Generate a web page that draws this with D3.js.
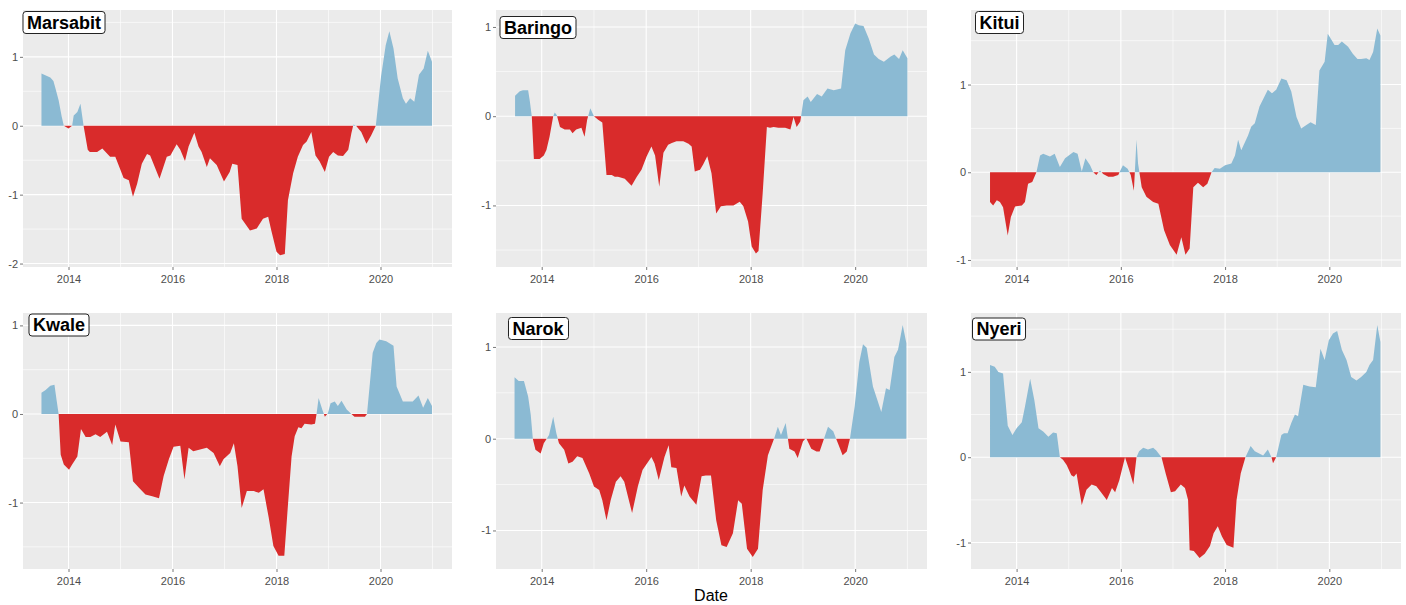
<!DOCTYPE html>
<html>
<head>
<meta charset="utf-8">
<script src="https://cdn.jsdelivr.net/npm/d3@7"></script>
<style>
  body { margin: 0; background: #ffffff; }
  svg { display: block; font-family: "Liberation Sans", Arial, sans-serif; }
</style>
</head>
<body>
<script>
// county names, one per facet
const counties = ["Marsabit", "Baringo", "Kitui", "Kwale", "Narok", "Nyeri"];

// [decimal year, index value]
const marsabit = [[2013.48,0.76],[2013.65,0.70],[2013.71,0.65],[2013.75,0.54],[2013.81,0.37],[2013.87,0.13],[2013.91,0],[2014.0,-0.04],[2014.07,0],[2014.1,0.15],[2014.17,0.2],[2014.23,0.32],[2014.29,0],[2014.37,-0.35],[2014.41,-0.38],[2014.55,-0.38],[2014.65,-0.33],[2014.8,-0.45],[2014.9,-0.45],[2015.06,-0.76],[2015.16,-0.79],[2015.24,-1.03],[2015.32,-0.84],[2015.41,-0.55],[2015.51,-0.41],[2015.57,-0.43],[2015.75,-0.77],[2015.89,-0.45],[2015.96,-0.43],[2016.08,-0.27],[2016.15,-0.35],[2016.24,-0.51],[2016.31,-0.30],[2016.42,-0.10],[2016.5,-0.30],[2016.56,-0.38],[2016.66,-0.60],[2016.72,-0.47],[2016.85,-0.57],[2016.99,-0.81],[2017.1,-0.67],[2017.15,-0.55],[2017.25,-0.57],[2017.33,-1.35],[2017.49,-1.52],[2017.62,-1.49],[2017.74,-1.35],[2017.84,-1.32],[2017.9,-1.52],[2018.0,-1.83],[2018.07,-1.88],[2018.16,-1.86],[2018.22,-1.08],[2018.32,-0.69],[2018.41,-0.45],[2018.51,-0.28],[2018.58,-0.23],[2018.67,-0.09],[2018.75,-0.43],[2018.83,-0.52],[2018.93,-0.67],[2019.01,-0.45],[2019.09,-0.38],[2019.18,-0.43],[2019.28,-0.44],[2019.38,-0.35],[2019.44,-0.11],[2019.48,0.02],[2019.53,0],[2019.63,-0.09],[2019.73,-0.26],[2019.82,-0.14],[2019.91,0],[2020.01,0.71],[2020.1,1.17],[2020.17,1.37],[2020.25,1.12],[2020.33,0.69],[2020.43,0.40],[2020.49,0.32],[2020.57,0.40],[2020.65,0.35],[2020.74,0.74],[2020.83,0.83],[2020.91,1.09],[2020.99,0.93]];

const baringo = [[2013.49,0.23],[2013.58,0.28],[2013.64,0.29],[2013.74,0.29],[2013.77,0.18],[2013.81,0],[2013.85,-0.48],[2013.96,-0.48],[2014.04,-0.44],[2014.09,-0.38],[2014.15,-0.23],[2014.22,0],[2014.25,0.04],[2014.29,0.01],[2014.35,-0.12],[2014.44,-0.15],[2014.54,-0.15],[2014.59,-0.19],[2014.66,-0.15],[2014.76,-0.13],[2014.82,-0.23],[2014.87,-0.04],[2014.93,0.09],[2015.0,0],[2015.08,-0.04],[2015.16,-0.07],[2015.24,-0.66],[2015.34,-0.66],[2015.4,-0.68],[2015.46,-0.68],[2015.59,-0.70],[2015.72,-0.78],[2015.82,-0.68],[2015.91,-0.60],[2016.01,-0.45],[2016.1,-0.34],[2016.17,-0.44],[2016.25,-0.79],[2016.33,-0.41],[2016.42,-0.32],[2016.49,-0.30],[2016.58,-0.28],[2016.71,-0.28],[2016.81,-0.31],[2016.87,-0.34],[2016.93,-0.62],[2017.03,-0.60],[2017.09,-0.54],[2017.17,-0.45],[2017.25,-0.64],[2017.34,-1.09],[2017.43,-1.01],[2017.54,-1.00],[2017.67,-1.00],[2017.79,-0.96],[2017.86,-1.01],[2017.95,-1.18],[2018.02,-1.46],[2018.1,-1.54],[2018.15,-1.51],[2018.23,-0.86],[2018.31,-0.12],[2018.37,-0.13],[2018.44,-0.12],[2018.53,-0.13],[2018.66,-0.13],[2018.76,-0.15],[2018.82,-0.01],[2018.88,-0.12],[2018.95,-0.06],[2019.01,0.18],[2019.09,0.22],[2019.15,0.16],[2019.27,0.25],[2019.36,0.22],[2019.47,0.31],[2019.59,0.29],[2019.73,0.31],[2019.81,0.74],[2019.91,0.93],[2020.0,1.04],[2020.07,1.02],[2020.16,1.01],[2020.26,0.87],[2020.36,0.69],[2020.45,0.64],[2020.55,0.61],[2020.68,0.67],[2020.75,0.69],[2020.84,0.64],[2020.91,0.74],[2021.0,0.65]];

const kitui = [[2013.49,-0.34],[2013.55,-0.38],[2013.62,-0.32],[2013.68,-0.34],[2013.74,-0.40],[2013.83,-0.72],[2013.89,-0.51],[2013.97,-0.39],[2014.1,-0.38],[2014.16,-0.34],[2014.22,-0.13],[2014.3,-0.11],[2014.38,0],[2014.45,0.19],[2014.51,0.21],[2014.64,0.18],[2014.73,0.21],[2014.83,0.06],[2014.93,0.16],[2015.09,0.23],[2015.17,0.21],[2015.25,0.01],[2015.32,0.16],[2015.41,0.08],[2015.47,0],[2015.53,-0.03],[2015.6,0.02],[2015.66,-0.02],[2015.76,-0.05],[2015.85,-0.05],[2015.95,-0.03],[2016.04,0.08],[2016.13,0.04],[2016.19,-0.03],[2016.25,-0.21],[2016.3,0.37],[2016.33,0.10],[2016.4,-0.17],[2016.49,-0.28],[2016.62,-0.34],[2016.72,-0.36],[2016.83,-0.66],[2016.94,-0.83],[2017.07,-0.94],[2017.16,-0.74],[2017.24,-0.94],[2017.32,-0.87],[2017.39,-0.17],[2017.48,-0.12],[2017.58,-0.17],[2017.66,-0.13],[2017.74,0],[2017.8,0.05],[2017.9,0.04],[2018.0,0.08],[2018.12,0.10],[2018.19,0.19],[2018.25,0.37],[2018.31,0.25],[2018.44,0.42],[2018.5,0.52],[2018.57,0.56],[2018.66,0.75],[2018.82,0.94],[2018.9,0.90],[2018.98,0.94],[2019.08,1.07],[2019.18,1.05],[2019.27,0.92],[2019.37,0.63],[2019.46,0.50],[2019.56,0.54],[2019.64,0.57],[2019.74,0.54],[2019.81,1.16],[2019.91,1.26],[2019.97,1.58],[2020.04,1.51],[2020.1,1.45],[2020.17,1.45],[2020.24,1.49],[2020.36,1.43],[2020.45,1.35],[2020.54,1.29],[2020.61,1.29],[2020.71,1.30],[2020.77,1.28],[2020.84,1.37],[2020.92,1.64],[2020.98,1.56]];

const kwale = [[2013.48,0.24],[2013.56,0.27],[2013.65,0.32],[2013.73,0.33],[2013.77,0.16],[2013.81,0],[2013.85,-0.46],[2013.91,-0.57],[2014.01,-0.63],[2014.07,-0.57],[2014.17,-0.48],[2014.24,-0.17],[2014.33,-0.26],[2014.42,-0.26],[2014.52,-0.23],[2014.61,-0.26],[2014.74,-0.20],[2014.84,-0.35],[2014.9,-0.12],[2015.0,-0.31],[2015.16,-0.32],[2015.24,-0.76],[2015.35,-0.83],[2015.48,-0.91],[2015.61,-0.93],[2015.74,-0.95],[2015.83,-0.70],[2015.93,-0.51],[2016.02,-0.37],[2016.15,-0.36],[2016.23,-0.74],[2016.31,-0.38],[2016.4,-0.42],[2016.53,-0.40],[2016.66,-0.38],[2016.79,-0.44],[2016.91,-0.59],[2016.98,-0.51],[2017.11,-0.44],[2017.18,-0.33],[2017.25,-0.59],[2017.33,-1.06],[2017.43,-0.87],[2017.56,-0.87],[2017.66,-0.89],[2017.75,-0.85],[2017.85,-1.17],[2017.94,-1.49],[2018.04,-1.60],[2018.15,-1.60],[2018.21,-1.11],[2018.29,-0.48],[2018.35,-0.25],[2018.42,-0.15],[2018.48,-0.16],[2018.54,-0.11],[2018.67,-0.12],[2018.74,-0.11],[2018.77,0],[2018.81,0.18],[2018.88,0.05],[2018.93,-0.03],[2018.99,0.01],[2019.04,0.12],[2019.12,0.14],[2019.18,0.09],[2019.25,0.15],[2019.35,0.05],[2019.44,0],[2019.5,-0.03],[2019.7,-0.03],[2019.74,0],[2019.79,0.31],[2019.85,0.69],[2019.92,0.80],[2019.98,0.84],[2020.11,0.82],[2020.25,0.77],[2020.31,0.31],[2020.43,0.14],[2020.55,0.14],[2020.62,0.14],[2020.73,0.21],[2020.82,0.07],[2020.91,0.18],[2020.99,0.09]];

const narok = [[2013.48,0.67],[2013.56,0.63],[2013.66,0.63],[2013.74,0.46],[2013.79,0.26],[2013.83,0],[2013.88,-0.12],[2013.98,-0.16],[2014.04,-0.05],[2014.14,0.04],[2014.22,0.24],[2014.28,0.06],[2014.33,-0.05],[2014.43,-0.12],[2014.51,-0.27],[2014.59,-0.25],[2014.68,-0.19],[2014.78,-0.21],[2014.91,-0.38],[2015.0,-0.52],[2015.1,-0.56],[2015.16,-0.67],[2015.24,-0.89],[2015.32,-0.67],[2015.42,-0.47],[2015.51,-0.41],[2015.58,-0.47],[2015.73,-0.81],[2015.84,-0.52],[2015.93,-0.34],[2016.1,-0.20],[2016.16,-0.27],[2016.24,-0.45],[2016.35,-0.20],[2016.43,-0.07],[2016.48,-0.31],[2016.58,-0.32],[2016.67,-0.63],[2016.73,-0.51],[2016.83,-0.63],[2016.96,-0.72],[2017.06,-0.41],[2017.14,-0.40],[2017.24,-0.40],[2017.34,-0.89],[2017.44,-1.16],[2017.54,-1.18],[2017.66,-1.03],[2017.76,-0.67],[2017.83,-0.71],[2017.93,-1.20],[2018.04,-1.29],[2018.14,-1.20],[2018.23,-0.56],[2018.33,-0.18],[2018.46,0.02],[2018.52,0.13],[2018.58,0.04],[2018.67,0.17],[2018.74,-0.11],[2018.84,-0.14],[2018.9,-0.21],[2019.0,-0.03],[2019.06,0.01],[2019.16,-0.11],[2019.26,-0.14],[2019.32,-0.14],[2019.48,0.13],[2019.58,0.08],[2019.67,-0.05],[2019.76,-0.18],[2019.84,-0.14],[2019.9,0],[2019.99,0.35],[2020.08,0.84],[2020.15,1.03],[2020.22,0.99],[2020.34,0.57],[2020.5,0.29],[2020.59,0.55],[2020.66,0.53],[2020.75,0.89],[2020.82,0.97],[2020.91,1.24],[2020.98,1.04]];

const nyeri = [[2013.49,1.08],[2013.58,1.06],[2013.65,1.0],[2013.74,0.98],[2013.83,0.37],[2013.92,0.26],[2014.0,0.34],[2014.1,0.41],[2014.16,0.59],[2014.26,0.92],[2014.34,0.67],[2014.42,0.34],[2014.51,0.30],[2014.61,0.24],[2014.7,0.29],[2014.77,0.28],[2014.83,0],[2014.89,-0.03],[2014.96,-0.09],[2015.05,-0.21],[2015.1,-0.23],[2015.15,-0.19],[2015.25,-0.56],[2015.34,-0.38],[2015.44,-0.32],[2015.53,-0.34],[2015.63,-0.42],[2015.73,-0.50],[2015.83,-0.36],[2015.89,-0.41],[2015.97,-0.27],[2016.08,0],[2016.16,-0.15],[2016.24,-0.32],[2016.3,0],[2016.35,0.07],[2016.43,0.11],[2016.52,0.09],[2016.62,0.11],[2016.68,0.08],[2016.78,0],[2016.86,-0.19],[2016.96,-0.41],[2017.04,-0.40],[2017.15,-0.32],[2017.23,-0.36],[2017.29,-0.50],[2017.32,-1.09],[2017.4,-1.10],[2017.51,-1.18],[2017.61,-1.13],[2017.71,-1.04],[2017.78,-0.89],[2017.86,-0.81],[2017.94,-0.93],[2018.03,-1.03],[2018.16,-1.06],[2018.22,-0.50],[2018.3,-0.19],[2018.39,0],[2018.49,0.13],[2018.57,0.07],[2018.73,0.02],[2018.82,0.09],[2018.89,0],[2018.92,-0.07],[2018.98,0],[2019.08,0.26],[2019.13,0.28],[2019.2,0.28],[2019.27,0.40],[2019.34,0.50],[2019.4,0.48],[2019.5,0.85],[2019.62,0.83],[2019.74,0.82],[2019.83,1.27],[2019.91,1.14],[2019.99,1.37],[2020.07,1.45],[2020.15,1.48],[2020.24,1.26],[2020.33,1.14],[2020.42,0.94],[2020.52,0.90],[2020.61,0.94],[2020.71,1.0],[2020.77,1.08],[2020.84,1.14],[2020.92,1.55],[2020.98,1.35]];

const allSeries = [marsabit, baringo, kitui, kwale, narok, nyeri];

// y limits of each facet (free scales)
const yLimits = [[-2.05, 1.68], [-1.69, 1.19], [-1.08, 1.85], [-1.75, 1.14], [-1.42, 1.37], [-1.31, 1.69]];
const xLimits = [2013.125, 2021.375];
const xTickYears = [2014, 2016, 2018, 2020];
const xMinorYears = [2013, 2015, 2017, 2019, 2021];

// facet rectangles on the page
const panelBoxes = [
  {x0: 23,  x1: 452,  y0: 10,  y1: 267},
  {x0: 496, x1: 927,  y0: 10,  y1: 267},
  {x0: 971, x1: 1401, y0: 10,  y1: 267},
  {x0: 23,  x1: 452,  y0: 313, y1: 569},
  {x0: 496, x1: 927,  y0: 313, y1: 569},
  {x0: 971, x1: 1401, y0: 313, y1: 569}
];
// centre of the name label, offset from facet top-left
const labelSpots = [[41, 12.5], [42, 17.5], [28.5, 12.5], [36, 12], [42, 15.5], [28, 16]];

const posColor = "#8bbad3";
const negColor = "#d92b2b";

// add the points where the line crosses zero so each sign gets its own clean area
function withCrossings(data) {
  const out = [];
  data.forEach(function(d, k) {
    if (k > 0) {
      const p = data[k - 1];
      if ((p[1] > 0 && d[1] < 0) || (p[1] < 0 && d[1] > 0)) {
        const t = p[0] + (d[0] - p[0]) * p[1] / (p[1] - d[1]);
        out.push([t, 0]);
      }
    }
    out.push(d);
  });
  return out;
}

const svg = d3.select("body").append("svg")
  .attr("width", 1406)
  .attr("height", 605);

counties.forEach(function(name, i) {
  const box = panelBoxes[i];
  const data = withCrossings(allSeries[i]);

  const x = d3.scaleLinear().domain(xLimits).range([box.x0, box.x1]);
  const y = d3.scaleLinear().domain(yLimits[i]).range([box.y1, box.y0]);

  const g = svg.append("g");

  // panel background
  g.append("rect")
    .attr("x", box.x0).attr("y", box.y0)
    .attr("width", box.x1 - box.x0).attr("height", box.y1 - box.y0)
    .attr("fill", "#ebebeb");

  // grid lines
  const yMajor = d3.range(Math.ceil(yLimits[i][0]), Math.floor(yLimits[i][1]) + 1);
  const yMinor = d3.range(Math.ceil(yLimits[i][0] - 0.5), Math.floor(yLimits[i][1] - 0.5) + 1).map(d => d + 0.5);
  const xMinor = xMinorYears.filter(d => d > xLimits[0] && d < xLimits[1]);

  g.selectAll(".ymin").data(yMinor).enter().append("line")
    .attr("x1", box.x0).attr("x2", box.x1)
    .attr("y1", d => y(d)).attr("y2", d => y(d))
    .attr("stroke", "#fff").attr("stroke-width", 0.6);
  g.selectAll(".xmin").data(xMinor).enter().append("line")
    .attr("y1", box.y0).attr("y2", box.y1)
    .attr("x1", d => x(d)).attr("x2", d => x(d))
    .attr("stroke", "#fff").attr("stroke-width", 0.6);
  g.selectAll(".ymaj").data(yMajor).enter().append("line")
    .attr("x1", box.x0).attr("x2", box.x1)
    .attr("y1", d => y(d)).attr("y2", d => y(d))
    .attr("stroke", "#fff").attr("stroke-width", 1.1);
  g.selectAll(".xmaj").data(xTickYears).enter().append("line")
    .attr("y1", box.y0).attr("y2", box.y1)
    .attr("x1", d => x(d)).attr("x2", d => x(d))
    .attr("stroke", "#fff").attr("stroke-width", 1.1);

  // positive part blue, negative part red
  const posArea = d3.area()
    .x(d => x(d[0]))
    .y0(y(0))
    .y1(d => y(Math.max(d[1], 0)));
  const negArea = d3.area()
    .x(d => x(d[0]))
    .y0(y(0))
    .y1(d => y(Math.min(d[1], 0)));

  g.append("path").datum(data)
    .attr("d", posArea)
    .attr("fill", posColor);
  g.append("path").datum(data)
    .attr("d", negArea)
    .attr("fill", negColor);

  // axes
  const xAxis = d3.axisBottom(x).tickValues(xTickYears).tickFormat(d => String(d))
    .tickSize(3).tickPadding(5);
  const yAxis = d3.axisLeft(y).tickValues(yMajor).tickFormat(d => String(d))
    .tickSize(3).tickPadding(2);

  const gx = g.append("g").attr("transform", "translate(0," + box.y1 + ")").call(xAxis);
  const gy = g.append("g").attr("transform", "translate(" + box.x0 + ",0)").call(yAxis);
  [gx, gy].forEach(function(ax) {
    ax.select(".domain").remove();
    ax.selectAll(".tick line").attr("stroke", "#555").attr("stroke-width", 0.8);
    ax.selectAll(".tick text")
      .attr("fill", "#4d4d4d")
      .style("font-size", "11px")
      .style("font-family", "'Liberation Sans', Arial, sans-serif");
  });

  // county label
  const lx = box.x0 + labelSpots[i][0], ly = box.y0 + labelSpots[i][1];
  const lab = g.append("g");
  const txt = lab.append("text")
    .attr("x", lx).attr("y", ly)
    .attr("dy", "0.36em")
    .attr("text-anchor", "middle")
    .style("font-size", "18px")
    .style("font-weight", "bold")
    .attr("fill", "#000")
    .text(name);
  const bb = txt.node().getBBox();
  lab.insert("rect", "text")
    .attr("x", bb.x - 4).attr("y", ly - 11)
    .attr("width", bb.width + 8).attr("height", 22)
    .attr("rx", 3).attr("ry", 3)
    .attr("fill", "#fff")
    .attr("stroke", "#222").attr("stroke-width", 1);
});

// shared x title
svg.append("text")
  .attr("x", 711)
  .attr("y", 601)
  .attr("text-anchor", "middle")
  .style("font-size", "16px")
  .attr("fill", "#000")
  .text("Date");
</script>
</body>
</html>
